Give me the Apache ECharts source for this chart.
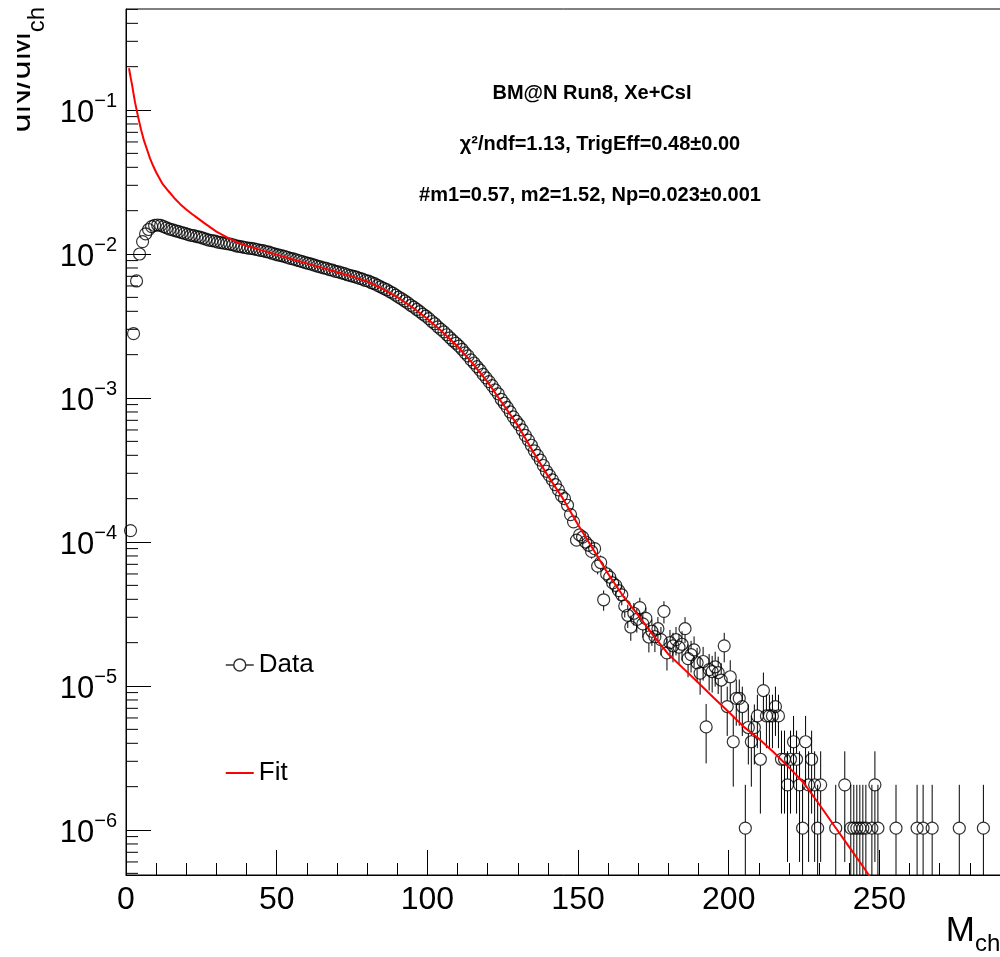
<!DOCTYPE html>
<html><head><meta charset="utf-8">
<script src="https://cdn.jsdelivr.net/npm/echarts@6/dist/echarts.min.js"></script>
<style>html,body{margin:0;padding:0;background:#fff}#c{width:1000px;height:957px}</style>
</head><body><div id="c"></div>
<script>
const FONT = '"Liberation Sans", Arial, Helvetica, sans-serif';
const Y_MIN = 4.87e-7, Y_MAX = 0.503;
const X_MIN = 0, X_MAX = 292;

// Data histogram: contiguous unit bins, first bin centre at M = 1.5
const binStart = 1.5;
const dataY = [
  1.2e-4, 2.8e-3, 6.5e-3, 1.0e-2, 1.22e-2, 1.38e-2, 1.48e-2, 1.55e-2, 1.58e-2, 1.59e-2,
  1.58e-2, 1.55e-2, 1.52e-2, 1.49e-2, 1.47e-2, 1.45e-2, 1.43e-2, 1.41e-2, 1.39e-2, 1.37e-2,
  1.35e-2, 1.34e-2, 1.32e-2, 1.31e-2, 1.29e-2, 1.27e-2, 1.25e-2, 1.24e-2, 1.23e-2, 1.21e-2,
  1.20e-2, 1.19e-2, 1.18e-2, 1.17e-2, 1.16e-2, 1.14e-2, 1.13e-2, 1.12e-2, 1.11e-2, 1.10e-2,
  1.095e-2, 1.085e-2, 1.075e-2, 1.06e-2, 1.055e-2, 1.04e-2, 1.03e-2, 1.012e-2, 0.998e-2, 0.985e-2,
  0.00975, 0.00962, 0.00950, 0.00933, 0.00925, 0.00910, 0.00898, 0.00885, 0.00872, 0.00860,
  0.00850, 0.00838, 0.00825, 0.00815, 0.00802, 0.00795, 0.00780, 0.00772, 0.00758, 0.00752,
  0.00740, 0.00730, 0.00718, 0.00708, 0.00700, 0.00690, 0.00678, 0.00670, 0.00655, 0.00648,
  0.00632, 0.00622, 0.00605, 0.00592, 0.00578, 0.00565, 0.00548, 0.00535, 0.00518, 0.00502,
  0.00488, 0.00472, 0.00458, 0.00440, 0.00428, 0.00412, 0.00398, 0.00382, 0.00370, 0.00356,
  0.00340, 0.00328, 0.00312, 0.00300, 0.00288, 0.00275, 0.00262, 0.00250, 0.00240, 0.00229,
  0.00218, 0.00206, 0.00196, 0.00184, 0.00175, 0.00165, 0.00156, 0.00146, 0.00138, 0.00130,
  0.00122, 0.00114, 0.00107, 0.00098, 0.00092, 0.00086, 0.00080, 0.00074, 0.00069, 0.00065,
  0.00060, 0.00055, 0.00051, 0.00047, 0.00043, 0.00040, 0.00037, 0.00034, 0.00031, 0.00029,
  0.00027, 0.00025, 0.00023, 0.00021, 0.00020, 1.80e-4, 1.55e-4, 1.38e-4, 1.03e-4, 1.12e-4,
  1.08e-4, 1.00e-4, 9.5e-5, 8.6e-5, 9.0e-5, 6.8e-5, 7.2e-5, 3.97e-5, 6.0e-5, 5.7e-5,
  5.2e-5, 5.0e-5, 4.6e-5, 4.3e-5, 3.6e-5, 3.1e-5, 2.57e-5, 3.2e-5, 2.9e-5, 3.5e-5,
  2.7e-5, 2.95e-5, 2.19e-5, 2.4e-5, 2.2e-5, 2.5e-5, 2.1e-5, 3.3e-5, 1.7e-5, 2.0e-5,
  1.9e-5, 2.1e-5, 1.86e-5, 1.95e-5, 2.5e-5, 1.55e-5, 1.65e-5, 1.78e-5, 1.45e-5, 1.23e-5,
  1.48e-5, 5.2e-6, 1.3e-5, 1.26e-5, 1.36e-5, 1.24e-5, 1.1e-5, 1.9e-5, 7.2e-6, 1.16e-5,
  4.1e-6, 8.2e-6, 8.2e-6, 7.2e-6, 1.03e-6, 5.15e-6, 4.1e-6, 5.15e-6, 6.2e-6, 3.1e-6,
  9.3e-6, 6.2e-6, 6.2e-6, 6.2e-6, 7.2e-6, 6.2e-6, 3.1e-6, 3.1e-6, 2.06e-6, 3.1e-6,
  4.1e-6, 3.1e-6, 2.06e-6, 1.03e-6, 4.1e-6, 2.06e-6, 3.1e-6, 2.06e-6, 1.03e-6, 2.06e-6
];
// Visible error bars from the bin at index 149 (M = 150.5) onwards
const errStartIndex = 149;
const dataErr = [
  1.07e-5,
  1.05e-5, 1.01e-5, 9.9e-6, 9.4e-6, 9.6e-6, 8.4e-6, 8.6e-6, 6.4e-6, 7.9e-6, 7.7e-6,
  7.3e-6, 7.2e-6, 6.9e-6, 6.7e-6, 6.1e-6, 5.7e-6, 5.1e-6, 5.7e-6, 5.5e-6, 6.0e-6,
  5.3e-6, 5.5e-6, 4.8e-6, 5.0e-6, 4.8e-6, 5.1e-6, 4.7e-6, 5.8e-6, 4.2e-6, 4.5e-6,
  4.4e-6, 4.7e-6, 4.4e-6, 4.5e-6, 5.1e-6, 4.0e-6, 4.1e-6, 4.3e-6, 3.9e-6, 3.6e-6,
  3.9e-6, 2.3e-6, 3.7e-6, 3.6e-6, 3.7e-6, 3.6e-6, 3.4e-6, 4.4e-6, 2.7e-6, 3.5e-6,
  2.1e-6, 2.9e-6, 2.9e-6, 2.7e-6, 1.03e-6, 2.3e-6, 2.1e-6, 2.3e-6, 2.5e-6, 1.8e-6,
  3.1e-6, 2.5e-6, 2.5e-6, 2.5e-6, 2.7e-6, 2.5e-6, 1.8e-6, 1.8e-6, 1.46e-6, 1.8e-6,
  2.1e-6, 1.8e-6, 1.46e-6, 1.03e-6, 2.1e-6, 1.46e-6, 1.8e-6, 1.46e-6, 1.03e-6, 1.46e-6
];
// Sparse far-tail bins
const sparseM = [235.5, 238.5, 240.5, 241.5, 242.5, 243.5, 244.5, 245.5, 247.5, 248.5, 249.5, 255.5, 262.5, 264.5, 267.5, 276.5, 284.5];
const sparseY = [1.03e-6, 2.06e-6, 1.03e-6, 1.03e-6, 1.03e-6, 1.03e-6, 1.03e-6, 1.03e-6, 1.03e-6, 2.06e-6, 1.03e-6, 1.03e-6, 1.03e-6, 1.03e-6, 1.03e-6, 1.03e-6, 1.03e-6];
const sparseErr = [1.03e-6, 1.46e-6, 1.03e-6, 1.03e-6, 1.03e-6, 1.03e-6, 1.03e-6, 1.03e-6, 1.03e-6, 1.46e-6, 1.03e-6, 1.03e-6, 1.03e-6, 1.03e-6, 1.03e-6, 1.03e-6, 1.03e-6];

// Fit curve
const fitM = [1, 1.5, 2, 2.5, 3, 4, 5, 6, 7, 8, 9, 10, 12, 14, 16, 18, 20, 22, 24, 26, 28, 30, 32, 34, 36, 38, 40,
  45, 50, 55, 60, 65, 70, 75, 80, 85, 90, 95, 100, 105, 110, 115, 120, 125, 130, 135, 140, 145, 150,
  155, 160, 165, 170, 175, 180, 185, 190, 195, 200, 205, 210, 215, 220, 225, 230, 235, 240, 245, 250];
const fitY = [0.195, 0.17, 0.150, 0.130, 0.113, 0.090, 0.073, 0.061, 0.053, 0.046, 0.041, 0.037, 0.031, 0.0275, 0.0245, 0.0222, 0.0204, 0.0189, 0.0176, 0.0164, 0.0153, 0.0143, 0.0136, 0.0129, 0.0123, 0.0118, 0.0114,
  0.0106, 0.0099, 0.00923, 0.00861, 0.00804, 0.00750, 0.00700, 0.00646, 0.00575, 0.00501, 0.00427, 0.00355, 0.00288, 0.00229, 0.00174, 0.00129, 0.000912, 0.000646, 0.000427, 0.000288, 0.000200, 0.000132,
  8.9e-5, 6.0e-5, 4.2e-5, 3.1e-5, 2.24e-5, 1.66e-5, 1.32e-5, 1.05e-5, 8.3e-6, 6.6e-6, 5.2e-6, 4.3e-6, 3.45e-6, 2.72e-6, 2.11e-6, 1.51e-6, 1.07e-6, 7.6e-7, 5.4e-7, 3.8e-7];

const textLines = [
  'BM@N Run8, Xe+CsI',
  '\u03c7\u00b2/ndf=1.13, TrigEff=0.48\u00b10.00',
  '#m1=0.57, m2=1.52, Np=0.023\u00b10.001'
];
const legendNames = ['Data', 'Fit'];

// ---- build series data ----
const pts = [];
const errPts = [];
dataY.forEach((v, i) => {
  const m = binStart + i;
  pts.push([m, v]);
  if (i >= errStartIndex) errPts.push([m, v, dataErr[i - errStartIndex]]);
});
sparseM.forEach((m, i) => { pts.push([m, sparseY[i]]); errPts.push([m, sparseY[i], sparseErr[i]]); });
const fitPts = fitM.map((m, i) => [m, fitY[i]]);

const yMinorTicks = [];
for (let d = -7; d <= -1; d++) for (let k = 2; k <= 9; k++) {
  const v = k * Math.pow(10, d);
  if (v > Y_MIN && v < Y_MAX) yMinorTicks.push([0, v]);
}

const R = 6;
function renderErr(params, api) {
  const x = api.value(0), y = api.value(1), e = api.value(2);
  const c = api.coord([x, y]);
  const hi = api.coord([x, y + e]);
  const lo = api.coord([x, Math.max(y - e, Y_MIN)]);
  const children = [];
  const st = { stroke: '#000', lineWidth: 1 };
  if (c[1] - R > hi[1]) children.push({ type: 'line', shape: { x1: c[0], y1: hi[1], x2: c[0], y2: c[1] - R }, style: st });
  if (lo[1] > c[1] + R) children.push({ type: 'line', shape: { x1: c[0], y1: c[1] + R, x2: c[0], y2: lo[1] }, style: st });
  return { type: 'group', children };
}
function renderMinor(params, api) {
  const p = api.coord([api.value(0), api.value(1)]);
  return { type: 'line', shape: { x1: p[0], y1: p[1], x2: p[0] + 12, y2: p[1] }, style: { stroke: '#000', lineWidth: 1 } };
}

const chart = echarts.init(document.getElementById('c'), null, { renderer: 'canvas' });
chart.setOption({
  animation: false,
  backgroundColor: '#fff',
  grid: { left: 126, top: 9, right: -6, bottom: 82, show: true, borderColor: '#000', borderWidth: 1, backgroundColor: 'transparent', containLabel: false, outerBoundsMode: 'none' },
  xAxis: {
    type: 'value', min: X_MIN, max: X_MAX, interval: 50,
    axisLine: { show: true, lineStyle: { color: '#000', width: 1 } },
    axisTick: { show: true, inside: true, length: 25, lineStyle: { color: '#000', width: 1 } },
    minorTick: { show: true, splitNumber: 5, length: 12, lineStyle: { color: '#000', width: 1 } },
    splitLine: { show: false }, minorSplitLine: { show: false },
    axisLabel: { show: true, fontSize: 32, fontFamily: FONT, color: '#000', margin: 9, showMaxLabel: false, showMinLabel: true }
  },
  yAxis: {
    type: 'log', logBase: 10, min: Y_MIN, max: Y_MAX, splitNumber: 6,
    axisLine: { show: true, lineStyle: { color: '#000', width: 1 } },
    axisTick: { show: true, inside: true, length: 25, lineStyle: { color: '#000', width: 1 } },
    minorTick: { show: false },
    splitLine: { show: false },
    axisLabel: {
      show: true, margin: 9, showMinLabel: false, showMaxLabel: false,
      formatter: function (v) {
        const e = Math.round(Math.log10(v));
        if (Math.abs(Math.log10(v) - e) > 1e-6) return '';
        return '{b|10}{s|\u2212' + (-e) + '}';
      },
      rich: {
        b: { fontSize: 31, fontFamily: FONT, color: '#000', lineHeight: 38, verticalAlign: 'bottom' },
        s: { fontSize: 20, fontFamily: FONT, color: '#000', lineHeight: 12, verticalAlign: 'top' }
      }
    }
  },
  legend: {
    orient: 'vertical', left: 220, top: 645, itemWidth: 28, itemHeight: 15, itemGap: 78,
    selectedMode: false,
    textStyle: { fontSize: 26, fontFamily: FONT, color: '#000', lineHeight: 30 },
    data: [
      { name: legendNames[0], icon: 'path://M0,7H8M20,7H28M8,7A6,6 0 1,1 20,7A6,6 0 1,1 8,7', itemStyle: { color: 'rgba(0,0,0,0)', borderColor: '#000', borderWidth: 1.5 } },
      { name: legendNames[1], icon: 'path://M0,0H28V2H0Z', itemStyle: { color: '#ff0000', borderWidth: 0 } }
    ]
  },
  graphic: [
    { type: 'text', x: 21, y: 32, rotation: Math.PI / 2, z: 10,
      style: { text: 'dN/dM', font: '34px ' + FONT, fill: '#000', align: 'right', verticalAlign: 'middle' } },
    { type: 'text', x: 37, y: 7, rotation: Math.PI / 2, z: 10,
      style: { text: 'ch', font: '24px ' + FONT, fill: '#000', align: 'right', verticalAlign: 'middle' } },
    { type: 'rect', shape: { x: 0, y: 0, width: 17, height: 140 }, style: { fill: '#fff' }, z: 11, silent: true },
    { type: 'text', x: 975, y: 931, z: 10,
      style: { text: 'M', font: '35px ' + FONT, fill: '#000', align: 'right', verticalAlign: 'middle' } },
    { type: 'text', x: 975, y: 944, z: 10,
      style: { text: 'ch', font: '24px ' + FONT, fill: '#000', align: 'left', verticalAlign: 'middle' } },
    { type: 'text', x: 592, y: 93, z: 10,
      style: { text: textLines[0], font: 'bold 20px ' + FONT, fill: '#000', align: 'center', verticalAlign: 'middle' } },
    { type: 'text', x: 600, y: 144, z: 10,
      style: { text: textLines[1], font: 'bold 20px ' + FONT, fill: '#000', align: 'center', verticalAlign: 'middle' } },
    { type: 'text', x: 590, y: 195, z: 10,
      style: { text: textLines[2], font: 'bold 20px ' + FONT, fill: '#000', align: 'center', verticalAlign: 'middle' } }
  ],
  series: [
    { type: 'custom', name: 'yMinorTicks', coordinateSystem: 'cartesian2d', data: yMinorTicks, renderItem: renderMinor, silent: true, clip: true, z: 3 },
    { type: 'custom', name: 'errors', coordinateSystem: 'cartesian2d', data: errPts, renderItem: renderErr, silent: true, clip: true, z: 2 },
    { type: 'scatter', name: legendNames[0], data: pts, symbol: 'circle', symbolSize: 12, clip: true,
      itemStyle: { color: 'rgba(0,0,0,0)', borderColor: '#000', borderWidth: 1.2 }, z: 2, silent: true },
    { type: 'line', name: legendNames[1], data: fitPts, symbol: 'none', smooth: false, clip: true,
      lineStyle: { color: '#ff0000', width: 2 }, itemStyle: { color: '#ff0000' }, z: 4, silent: true }
  ]
});
</script>
</body></html>
